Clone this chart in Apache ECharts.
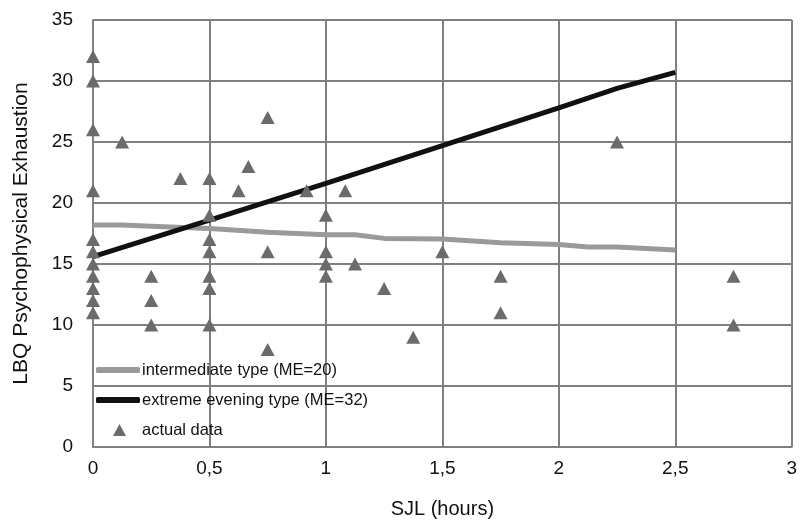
<!DOCTYPE html>
<html>
<head>
<meta charset="utf-8">
<script src="https://cdn.jsdelivr.net/npm/echarts@6/dist/echarts.min.js"></script>
<style>
  html, body { margin: 0; padding: 0; background: #fff; }
  #chart { width: 800px; height: 524px; }
</style>
</head>
<body>
<div id="chart"></div>
<script>
// actual data (SJL hours, LBQ score)
var sjlValues = [
  0, 0, 0, 0, 0, 0, 0, 0, 0, 0, 0,
  0.125,
  0.25, 0.25, 0.25,
  0.375,
  0.5, 0.5, 0.5, 0.5, 0.5, 0.5, 0.5,
  0.625, 0.667,
  0.75, 0.75, 0.75,
  0.917,
  1, 1, 1, 1,
  1.083, 1.125, 1.25, 1.375, 1.5,
  1.75, 1.75,
  2.25,
  2.75, 2.75
];
var lbqValues = [
  32, 30, 26, 21, 17, 16, 15, 14, 13, 12, 11,
  25,
  14, 12, 10,
  22,
  22, 19, 17, 16, 14, 13, 10,
  21, 23,
  27, 16, 8,
  21,
  19, 16, 15, 14,
  21, 15, 13, 9, 16,
  14, 11,
  25,
  14, 10
];

// fitted lines
var intermediateX = [0, 0.125, 0.25, 0.5, 0.75, 0.875, 1, 1.125, 1.25, 1.5, 1.75, 2, 2.125, 2.25, 2.5];
var intermediateY = [18.2, 18.2, 18.1, 17.9, 17.6, 17.5, 17.4, 17.4, 17.1, 17.05, 16.75, 16.6, 16.4, 16.4, 16.15];
var eveningX = [0, 0.5, 1, 1.5, 2, 2.25, 2.5];
var eveningY = [15.6, 18.6, 21.6, 24.7, 27.8, 29.4, 30.7];

var xTicks = { min: 0, max: 3, step: 0.5 };
var yTicks = { min: 0, max: 35, step: 5 };

var names = ['intermediate type (ME=20)', 'extreme evening type (ME=32)', 'actual data'];

function zip(xs, ys) {
  var out = [];
  for (var i = 0; i < xs.length; i++) out.push([xs[i], ys[i]]);
  return out;
}

var chart = echarts.init(document.getElementById('chart'));
var gridColor = '#808080';
var font = 'Liberation Sans, Arial, sans-serif';

var option = {
  animation: false,
  grid: { left: 93, right: 5, top: 20, bottom: 74 },
  legend: [{
    orient: 'vertical',
    left: 96,
    top: 361,
    padding: 0,
    itemWidth: 44,
    itemHeight: 6,
    itemGap: 12,
    icon: 'roundRect',
    data: [names[0], names[1]],
    textStyle: { fontFamily: font, fontSize: 16.5, lineHeight: 18, color: '#111', padding: [0, 0, 0, -3] }
  }, {
    orient: 'vertical',
    left: 113,
    top: 421,
    padding: 0,
    itemWidth: 13,
    itemHeight: 12,
    data: [names[2]],
    textStyle: { fontFamily: font, fontSize: 16.5, lineHeight: 18, color: '#111', padding: [0, 0, 0, 11] }
  }],
  xAxis: {
    type: 'value',
    min: xTicks.min,
    max: xTicks.max,
    interval: xTicks.step,
    name: 'SJL (hours)',
    nameLocation: 'middle',
    nameGap: 52,
    nameTextStyle: { fontFamily: font, fontSize: 20, color: '#111' },
    axisLine: { lineStyle: { color: gridColor, width: 2 } },
    axisTick: { show: false },
    axisLabel: {
      fontFamily: font, fontSize: 19, color: '#111', margin: 12,
      formatter: function (v) { return String(v).replace('.', ','); }
    },
    splitLine: { show: true, lineStyle: { color: gridColor, width: 2 } }
  },
  yAxis: {
    type: 'value',
    min: yTicks.min,
    max: yTicks.max,
    interval: yTicks.step,
    name: 'LBQ Psychophysical Exhaustion',
    nameLocation: 'middle',
    nameGap: 61,
    nameTextStyle: { fontFamily: font, fontSize: 21, color: '#111' },
    axisLine: { show: true, lineStyle: { color: gridColor, width: 2 } },
    axisTick: { show: false },
    axisLabel: { fontFamily: font, fontSize: 19, color: '#111', margin: 20 },
    splitLine: { show: true, lineStyle: { color: gridColor, width: 2 } }
  },
  series: [{
    name: names[0],
    type: 'line',
    showSymbol: false,
    symbol: 'none',
    color: '#9a9a9a',
    lineStyle: { color: '#9a9a9a', width: 5 },
    data: zip(intermediateX, intermediateY),
    z: 3
  }, {
    name: names[1],
    type: 'line',
    showSymbol: false,
    symbol: 'none',
    color: '#111111',
    lineStyle: { color: '#111111', width: 5 },
    data: zip(eveningX, eveningY),
    z: 4
  }, {
    name: names[2],
    type: 'scatter',
    symbol: 'triangle',
    symbolSize: [14, 13],
    itemStyle: { color: '#6b6b6b', opacity: 1 },
    data: zip(sjlValues, lbqValues),
    z: 5
  }]
};

chart.setOption(option);
</script>
</body>
</html>
